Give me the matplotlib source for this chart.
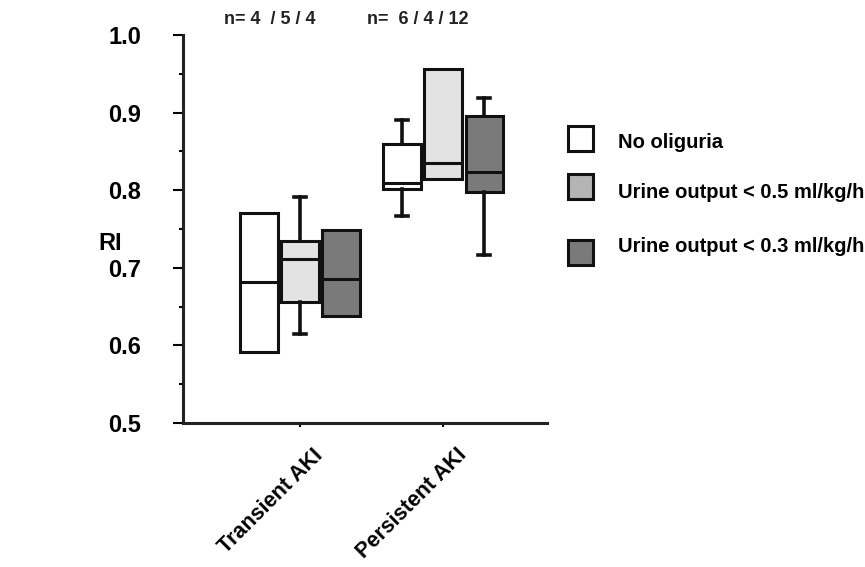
import matplotlib.pyplot as plt
from matplotlib.patches import Rectangle
from matplotlib.transforms import ScaledTranslation

plt.rcParams['font.family'] = ['Liberation Sans', 'DejaVu Sans']
plt.rcParams['font.weight'] = 'bold'

groups = ['Transient AKI', 'Persistent AKI']
series = ['No oliguria', 'Urine output < 0.5 ml/kg/h', 'Urine output < 0.3 ml/kg/h']
n_labels = ['n= 4  / 5 / 4', 'n=  6 / 4 / 12']

# per group: [no oliguria, <0.5, <0.3]
q1 = [[0.591, 0.656, 0.638], [0.801, 0.814, 0.798]]
med = [[0.682, 0.711, 0.686], [0.809, 0.835, 0.824]]
q3 = [[0.770, 0.734, 0.749], [0.860, 0.956, 0.895]]
whislo = [[None, 0.615, None], [0.767, None, 0.716]]
whishi = [[None, 0.791, None], [0.891, None, 0.919]]

box_colors = ['white', '#e3e3e3', '#7a7a7a']
legend_colors = ['white', '#b4b4b4', '#7a7a7a']
edge = '#111111'

fig = plt.figure(figsize=(8.65, 5.67), dpi=100)
ax = fig.add_axes([0.2116, 0.254, 0.4208, 0.6843])

offsets = [-0.287, 0.0, 0.287]
width = 0.26
for g in range(len(groups)):
    for s in range(len(series)):
        has_whisk = whislo[g][s] is not None
        stat = dict(q1=q1[g][s], med=med[g][s], q3=q3[g][s],
                    whislo=whislo[g][s] if has_whisk else q1[g][s],
                    whishi=whishi[g][s] if has_whisk else q3[g][s])
        ax.bxp([stat], positions=[g + 1 + offsets[s]], widths=width,
               showfliers=False, showcaps=has_whisk, patch_artist=True,
               capwidths=0.08,
               boxprops=dict(facecolor=box_colors[s], edgecolor=edge, linewidth=2.2),
               medianprops=dict(color=edge, linewidth=2.2),
               whiskerprops=dict(color=edge, linewidth=2.6),
               capprops=dict(color=edge, linewidth=2.6))

ax.set_xlim(0.182, 2.727)
ax.set_ylim(0.5, 1.0)
ax.set_yticks([0.5, 0.6, 0.7, 0.8, 0.9, 1.0])
ax.set_yticks([0.55, 0.65, 0.75, 0.85, 0.95], minor=True)
ax.set_yticklabels(['0.5', '0.6', '0.7', '0.8', '0.9', '1.0'], fontsize=17, fontweight='bold')
ax.tick_params(axis='y', which='major', length=7, width=1.5, pad=23)
ax.tick_params(axis='y', which='minor', length=3, width=1.5)
ax.set_xticks([1, 2])
ax.set_xticklabels(groups, rotation=45, ha='right', va='center',
                   rotation_mode='anchor', fontsize=15.5, fontweight='bold')
ax.tick_params(axis='x', length=3, width=1.5)
shift = ScaledTranslation(20 / 100, -20 / 100, fig.dpi_scale_trans)
for lab in ax.get_xticklabels():
    lab.set_transform(lab.get_transform() + shift)

for side in ['top', 'right']:
    ax.spines[side].set_visible(False)
for side in ['left', 'bottom']:
    ax.spines[side].set_linewidth(2.2)
    ax.spines[side].set_color('#222222')

fig.text(110 / 865, 1 - 244 / 567, 'RI', fontsize=17, fontweight='bold',
         ha='center', va='center')

for x, lab in zip([270, 418], n_labels):
    fig.text(x / 865, 1 - 20 / 567, lab, fontsize=13, fontweight='bold',
             ha='center', va='center', color='#222222')

# legend drawn by hand so the rows keep their uneven spacing
sq_y = [138, 186.5, 252.5]
txt_y = [142, 192, 247]
for s in range(len(series)):
    fig.patches.append(Rectangle(((568) / 865, 1 - (sq_y[s] + 12.5) / 567),
                                 25 / 865, 25 / 567, transform=fig.transFigure,
                                 facecolor=legend_colors[s], edgecolor=edge,
                                 linewidth=2.2))
    fig.text(618 / 865, 1 - txt_y[s] / 567, series[s], fontsize=14.5,
             fontweight='bold', ha='left', va='center')

fig.savefig('out.png', dpi=100)
